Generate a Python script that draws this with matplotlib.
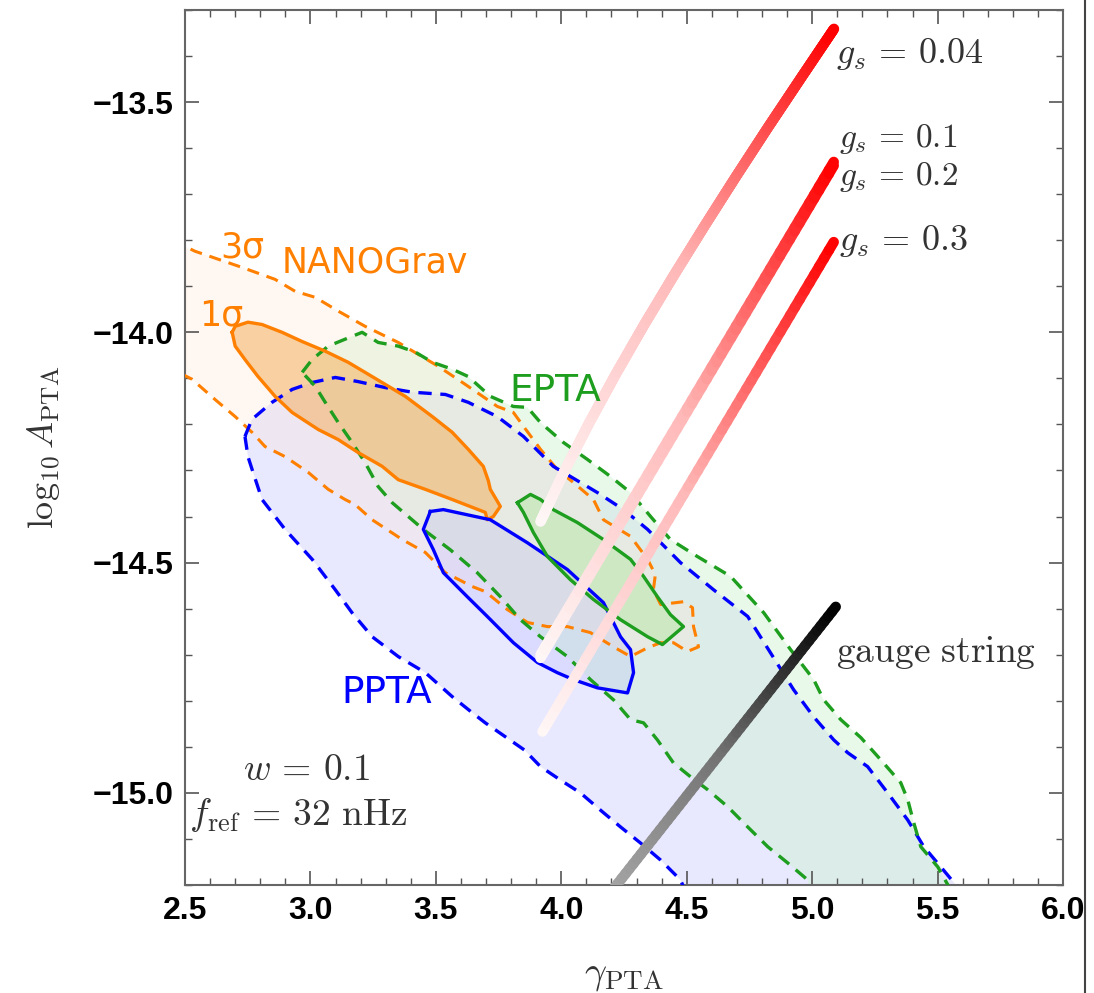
import numpy as np
import matplotlib
matplotlib.use("Agg")
import matplotlib.pyplot as plt
from matplotlib.collections import LineCollection
from matplotlib.colors import LinearSegmentedColormap
from matplotlib.lines import Line2D
from matplotlib.ticker import MultipleLocator, FuncFormatter

plt.rcParams['mathtext.fontset'] = 'cm'
plt.rcParams['font.family'] = ['Liberation Sans', 'DejaVu Sans']

# ---- contour data (gamma_PTA, log10 A_PTA) ----
# NANOGrav 3 sigma
ng3_x = [2.45, 2.540, 2.727, 2.859, 2.939, 3.019, 3.111, 3.218, 3.350, 3.430, 3.510, 3.617,
         3.745, 3.809, 3.849, 3.917, 3.984, 4.048, 4.128, 4.168, 4.276, 4.344, 4.375, 4.367,
         4.396, 4.487, 4.523, 4.527, 4.547, 4.503, 4.447, 4.396, 4.344, 4.276, 4.208, 4.116,
         4.024, 3.945, 3.865, 3.785, 3.697, 3.645, 3.538, 3.458, 3.366, 3.246, 3.178, 3.138,
         3.071, 2.991, 2.899, 2.819, 2.767, 2.700, 2.620, 2.528, 2.45]
ng3_y = [-13.800, -13.824, -13.859, -13.885, -13.911, -13.924, -13.954, -13.987, -14.022,
         -14.048, -14.074, -14.113, -14.161, -14.174, -14.204, -14.254, -14.298, -14.326,
         -14.363, -14.407, -14.443, -14.493, -14.526, -14.559, -14.591, -14.585, -14.598,
         -14.639, -14.683, -14.693, -14.674, -14.674, -14.685, -14.704, -14.683, -14.652,
         -14.639, -14.639, -14.630, -14.602, -14.563, -14.552, -14.522, -14.478, -14.450,
         -14.407, -14.374, -14.363, -14.341, -14.304, -14.270, -14.248, -14.217, -14.183,
         -14.146, -14.102, -14.080]

# NANOGrav 1 sigma
ng1_x = [2.688, 2.700, 2.751, 2.807, 2.887, 2.967, 3.059, 3.150, 3.218, 3.298, 3.378, 3.486,
         3.565, 3.629, 3.689, 3.709, 3.717, 3.757, 3.729, 3.705, 3.697, 3.565, 3.458, 3.350,
         3.286, 3.190, 3.111, 3.031, 2.927, 2.859, 2.791, 2.739, 2.700]
ng1_y = [-14.000, -13.987, -13.978, -13.983, -14.000, -14.020, -14.041, -14.065, -14.087,
         -14.113, -14.139, -14.183, -14.217, -14.254, -14.291, -14.322, -14.341, -14.378,
         -14.400, -14.407, -14.391, -14.363, -14.341, -14.320, -14.291, -14.261, -14.233,
         -14.211, -14.174, -14.139, -14.096, -14.059, -14.030]

# PPTA 2 sigma
pp2_x = [2.739, 2.767, 2.847, 2.927, 3.007, 3.099, 3.190, 3.298, 3.406, 3.538, 3.629, 3.745,
         3.849, 3.968, 4.036, 4.144, 4.248, 4.344, 4.475, 4.607, 4.743, 4.834, 4.926, 5.006,
         5.086, 5.142, 5.221, 5.301, 5.381, 5.445, 5.513, 5.573, 5.60, 4.50, 4.475, 4.396,
         4.316, 4.236, 4.168, 4.076, 3.996, 3.917, 3.853, 3.697, 3.645, 3.565, 3.458, 3.350,
         3.246, 3.166, 3.099, 3.007, 2.899, 2.807, 2.767, 2.751]
pp2_y = [-14.226, -14.189, -14.152, -14.124, -14.109, -14.098, -14.107, -14.120, -14.130,
         -14.135, -14.152, -14.183, -14.226, -14.291, -14.313, -14.348, -14.385, -14.428,
         -14.500, -14.559, -14.617, -14.696, -14.776, -14.835, -14.885, -14.913, -14.943,
         -15.000, -15.059, -15.117, -15.161, -15.200, -15.220, -15.220, -15.189, -15.146,
         -15.109, -15.074, -15.043, -15.000, -14.972, -14.943, -14.907, -14.848, -14.826,
         -14.791, -14.739, -14.704, -14.661, -14.609, -14.559, -14.493, -14.428, -14.363,
         -14.297, -14.270]

# PPTA 1 sigma
pp1_x = [3.478, 3.530, 3.717, 3.865, 4.024, 4.168, 4.236, 4.276, 4.288, 4.264, 4.144, 4.048,
         3.984, 3.905, 3.809, 3.705, 3.625, 3.530, 3.490, 3.450]
pp1_y = [-14.389, -14.385, -14.407, -14.457, -14.515, -14.587, -14.661, -14.689, -14.739,
         -14.783, -14.772, -14.754, -14.739, -14.717, -14.674, -14.617, -14.574, -14.522,
         -14.472, -14.428]

# EPTA 2 sigma
ep2_x = [2.967, 3.007, 3.071, 3.138, 3.206, 3.270, 3.350, 3.418, 3.486, 3.565, 3.629, 3.717,
         3.809, 3.865, 3.917, 4.008, 4.104, 4.196, 4.276, 4.356, 4.435, 4.543, 4.675, 4.807,
         4.914, 5.006, 5.046, 5.114, 5.194, 5.273, 5.353, 5.381, 5.405, 5.433, 5.501, 5.541,
         5.56, 4.99, 4.982, 4.902, 4.823, 4.743, 4.663, 4.583, 4.515, 4.447, 4.383, 4.328,
         4.276, 4.208, 4.116, 4.024, 3.917, 3.837, 3.757, 3.665, 3.557, 3.450, 3.390, 3.326,
         3.270, 3.218, 3.166, 3.111, 3.059, 3.019]
ep2_y = [-14.087, -14.059, -14.030, -14.015, -14.000, -14.022, -14.030, -14.043, -14.065,
         -14.080, -14.096, -14.139, -14.161, -14.163, -14.196, -14.239, -14.276, -14.313,
         -14.348, -14.400, -14.450, -14.487, -14.530, -14.609, -14.689, -14.754, -14.798,
         -14.841, -14.880, -14.928, -14.978, -15.015, -15.065, -15.117, -15.161, -15.200,
         -15.220, -15.220, -15.189, -15.152, -15.117, -15.074, -15.030, -14.993, -14.965,
         -14.935, -14.885, -14.848, -14.841, -14.798, -14.754, -14.704, -14.661, -14.624,
         -14.574, -14.522, -14.472, -14.428, -14.400, -14.370, -14.335, -14.283, -14.239,
         -14.196, -14.152, -14.117]

# EPTA 1 sigma
ep1_x = [3.825, 3.877, 3.917, 3.968, 4.064, 4.168, 4.276, 4.328, 4.383, 4.435, 4.487, 4.403,
         4.344, 4.236, 4.128, 4.036, 3.945, 3.889, 3.849]
ep1_y = [-14.370, -14.352, -14.363, -14.385, -14.413, -14.450, -14.493, -14.530, -14.574,
         -14.613, -14.639, -14.678, -14.661, -14.624, -14.580, -14.537, -14.487, -14.435,
         -14.391]

# model curves
gs004_x = [3.917, 4.010, 4.111, 4.218, 4.331, 4.449, 4.571, 4.696, 4.824, 4.955, 5.087]
gs004_y = [-14.411, -14.304, -14.197, -14.090, -13.983, -13.876, -13.769, -13.662, -13.555,
           -13.448, -13.341]
gs01_x = [3.917, 5.086]
gs01_y = [-14.700, -13.630]
gs02_x = [3.917, 5.086]
gs02_y = [-14.707, -13.638]
gs03_x = [3.925, 5.086]
gs03_y = [-14.867, -13.804]
gauge_x = [4.18, 5.094]
gauge_y = [-15.228, -14.596]

ORANGE = '#ff8000'
GREEN = '#1e9e1e'
BLUE = '#0000ff'
DASH = (0, (4, 2.6))


def closed(xs, ys):
    return list(xs) + [xs[0]], list(ys) + [ys[0]]


def gradient_line(ax, xs, ys, cmap, lw, n=60):
    # split each piece so the colour can change smoothly along the curve
    xs = np.asarray(xs, float)
    ys = np.asarray(ys, float)
    px, py = [xs[0]], [ys[0]]
    for i in range(len(xs) - 1):
        t = np.linspace(0, 1, n + 1)[1:]
        px.extend(xs[i] + (xs[i + 1] - xs[i]) * t)
        py.extend(ys[i] + (ys[i + 1] - ys[i]) * t)
    px, py = np.array(px), np.array(py)
    pts = np.column_stack([px, py]).reshape(-1, 1, 2)
    segs = np.concatenate([pts[:-1], pts[1:]], axis=1)
    d = np.r_[0, np.cumsum(np.hypot(np.diff(px), np.diff(py)))]
    s = d / d[-1]
    lc = LineCollection(segs, colors=cmap(0.5 * (s[:-1] + s[1:])), linewidths=lw,
                        capstyle='round', zorder=6)
    ax.add_collection(lc)


red_cmap = LinearSegmentedColormap.from_list(
    'redfade', [(1.0, 0.97, 0.97), (1.0, 0.72, 0.72), (1.0, 0.0, 0.0)])
gray_cmap = LinearSegmentedColormap.from_list(
    'grayfade', [(0.66, 0.66, 0.66), (0.45, 0.45, 0.45), (0.0, 0.0, 0.0)])

fig = plt.figure(figsize=(10.94, 9.93), dpi=100)
ax = fig.add_axes([0.1691, 0.1088, 0.8026, 0.8812])

# fills
ax.fill(pp2_x, pp2_y, color=(0.8, 0.8, 1.0), alpha=0.45, lw=0, zorder=1)
ax.fill(ep2_x, ep2_y, color=(0.8, 0.95, 0.8), alpha=0.42, lw=0, zorder=1)
ax.fill(ng3_x, ng3_y, color=(1.0, 0.9, 0.83), alpha=0.3, lw=0, zorder=1)
ax.fill(ng1_x, ng1_y, color=(0.96, 0.67, 0.32), alpha=0.5, lw=0, zorder=2)
ax.fill(pp1_x, pp1_y, color=(0.6, 0.6, 1.0), alpha=0.16, lw=0, zorder=2)
ax.fill(ep1_x, ep1_y, color=(0.6, 0.9, 0.5), alpha=0.3, lw=0, zorder=2)

# outlines
x, y = closed(ng3_x, ng3_y)
ax.plot(x, y, color=ORANGE, lw=2.2, ls=DASH, zorder=4)
x, y = closed(pp2_x, pp2_y)
ax.plot(x, y, color=BLUE, lw=2.4, ls=DASH, zorder=4)
x, y = closed(ep2_x, ep2_y)
ax.plot(x, y, color=GREEN, lw=2.4, ls=DASH, zorder=4)
x, y = closed(ng1_x, ng1_y)
ax.plot(x, y, color=ORANGE, lw=2.4, zorder=4)
x, y = closed(pp1_x, pp1_y)
ax.plot(x, y, color=BLUE, lw=2.4, zorder=4)
x, y = closed(ep1_x, ep1_y)
ax.plot(x, y, color=GREEN, lw=2.4, zorder=4)

# model curves
gradient_line(ax, gs004_x, gs004_y, red_cmap, 7.5)
gradient_line(ax, gs01_x, gs01_y, red_cmap, 7.5)
gradient_line(ax, gs02_x, gs02_y, red_cmap, 7.5)
gradient_line(ax, gs03_x, gs03_y, red_cmap, 7.5)
gradient_line(ax, gauge_x, gauge_y, gray_cmap, 7.5)

# labels
sans = dict(va='center', ha='left', zorder=8, family=['DejaVu Sans'])
ax.text(2.64, -13.815, '3σ', color=ORANGE, fontsize=25, **sans)
ax.text(2.885, -13.848, 'NANOGrav', color=ORANGE, fontsize=25, **sans)
ax.text(2.555, -13.964, '1σ', color=ORANGE, fontsize=25, **sans)
ax.text(3.795, -14.128, 'EPTA', color=GREEN, fontsize=27, **sans)
ax.text(3.125, -14.783, 'PPTA', color=BLUE, fontsize=27, **sans)

cm = dict(fontsize=26, va='center', ha='left', color='#333333', zorder=8)
ax.text(5.094, -13.396, r'$g_s\,=\,0.04$', **cm)
cm_small = dict(cm, fontsize=24)
ax.text(5.105, -13.580, r'$g_s\,=\,0.1$', **cm_small)
ax.text(5.105, -13.663, r'$g_s\,=\,0.2$', **cm_small)
ax.text(5.105, -13.802, r'$g_s\,=\,0.3$', **cm)
ax.text(5.094, -14.696, r'$\mathrm{gauge\ string}$', fontsize=27, va='center', ha='left',
        color='#333333', zorder=8)
ax.text(2.985, -14.95, r'$w\,=\,0.1$', fontsize=27, ha='center', va='center', color='#333333')
ax.text(2.515, -15.048, r'$f_{\rm ref}\,=\,32\ \mathrm{nHz}$', fontsize=27, ha='left',
        va='center', color='#333333')

ax.set_xlim(2.5, 6.0)
ax.set_ylim(-15.2, -13.3)
ax.xaxis.set_major_locator(MultipleLocator(0.5))
ax.xaxis.set_minor_locator(MultipleLocator(0.1))
ax.yaxis.set_major_locator(MultipleLocator(0.5))
ax.yaxis.set_minor_locator(MultipleLocator(0.1))
fmt = FuncFormatter(lambda v, pos: f'{v:.1f}'.replace('-', '\u2212'))
ax.xaxis.set_major_formatter(fmt)
ax.yaxis.set_major_formatter(fmt)
ax.tick_params(which='both', direction='in', top=True, right=True, color='#555555')
ax.tick_params(which='major', length=10, width=1.2, labelsize=23, pad=8)
ax.tick_params(which='minor', length=5, width=1.0)
for lab in ax.get_xticklabels() + ax.get_yticklabels():
    lab.set_fontweight('bold')
for sp in ax.spines.values():
    sp.set_color('#666666')
    sp.set_linewidth(1.5)

ax.set_xlabel(r'$\gamma_{\rm PTA}$', fontsize=28, color='#333333', labelpad=22)
ax.set_ylabel(r'$\log_{10}A_{\rm PTA}$', fontsize=26, color='#333333', labelpad=22)

fig.add_artist(Line2D([0.992, 0.992], [0, 1], transform=fig.transFigure,
                      color='#444444', lw=1.5))

plt.savefig('out.png', dpi=100)
